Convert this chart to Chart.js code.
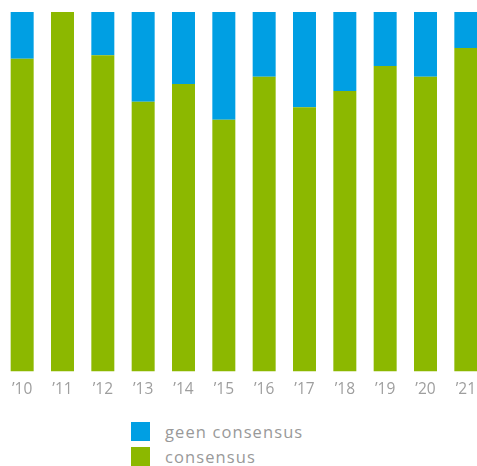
<!DOCTYPE html>
<html>
<head>
<meta charset="utf-8">
<script src="https://cdn.jsdelivr.net/npm/chart.js@4"></script>
<style>
  html, body { margin: 0; padding: 0; background: #fff; overflow: hidden; width: 477px; height: 466px; }
  #wrap { position: absolute; left: 0; top: 0; width: 488px; height: 409px; }
  #legend { position: absolute; left: 131px; top: 419px; font-family: "Open Sans", sans-serif; font-size: 16.5px; letter-spacing: 1.1px; color: #999999; }
  .item { display: flex; align-items: center; height: 25px; }
  .box { width: 19px; height: 19px; margin-right: 15px; }
</style>
</head>
<body>
<div id="wrap"><canvas id="c" width="488" height="409"></canvas></div>
<div id="legend"></div>
<script>
const categories = ["\u201910","\u201911","\u201912","\u201913","\u201914","\u201915","\u201916","\u201917","\u201918","\u201919","\u201920","\u201921"];
const consensus = [87, 100, 88, 75, 80, 70, 82, 73.5, 78, 85, 82, 90];
const geenConsensus = [13, 0, 12, 25, 20, 30, 18, 26.5, 22, 15, 18, 10];
const seriesNames = ["consensus", "geen consensus"];
const seriesColors = ["#8cb800", "#009fe3"];

const chart = new Chart(document.getElementById("c"), {
  type: "bar",
  data: {
    labels: categories,
    datasets: [
      { label: seriesNames[0], data: consensus, backgroundColor: seriesColors[0], barPercentage: 0.57, categoryPercentage: 1 },
      { label: seriesNames[1], data: geenConsensus, backgroundColor: seriesColors[1], barPercentage: 0.57, categoryPercentage: 1 }
    ]
  },
  options: {
    responsive: false,
    animation: false,
    layout: { padding: { left: 2, right: 2, top: 12, bottom: 1 } },
    plugins: { legend: { display: false }, tooltip: { enabled: false } },
    scales: {
      x: {
        stacked: true,
        grid: { display: false, drawTicks: false },
        border: { display: false },
        ticks: { color: "#9e9e9e", font: { family: "Open Sans", size: 15.5 }, padding: 9 }
      },
      y: {
        stacked: true,
        display: false,
        min: 0,
        max: 100
      }
    }
  }
});

const legend = document.getElementById("legend");
[1, 0].forEach(i => {
  const row = document.createElement("div");
  row.className = "item";
  const box = document.createElement("div");
  box.className = "box";
  box.style.background = seriesColors[i];
  const txt = document.createElement("span");
  txt.textContent = seriesNames[i];
  row.appendChild(box);
  row.appendChild(txt);
  legend.appendChild(row);
});
</script>
</body>
</html>
